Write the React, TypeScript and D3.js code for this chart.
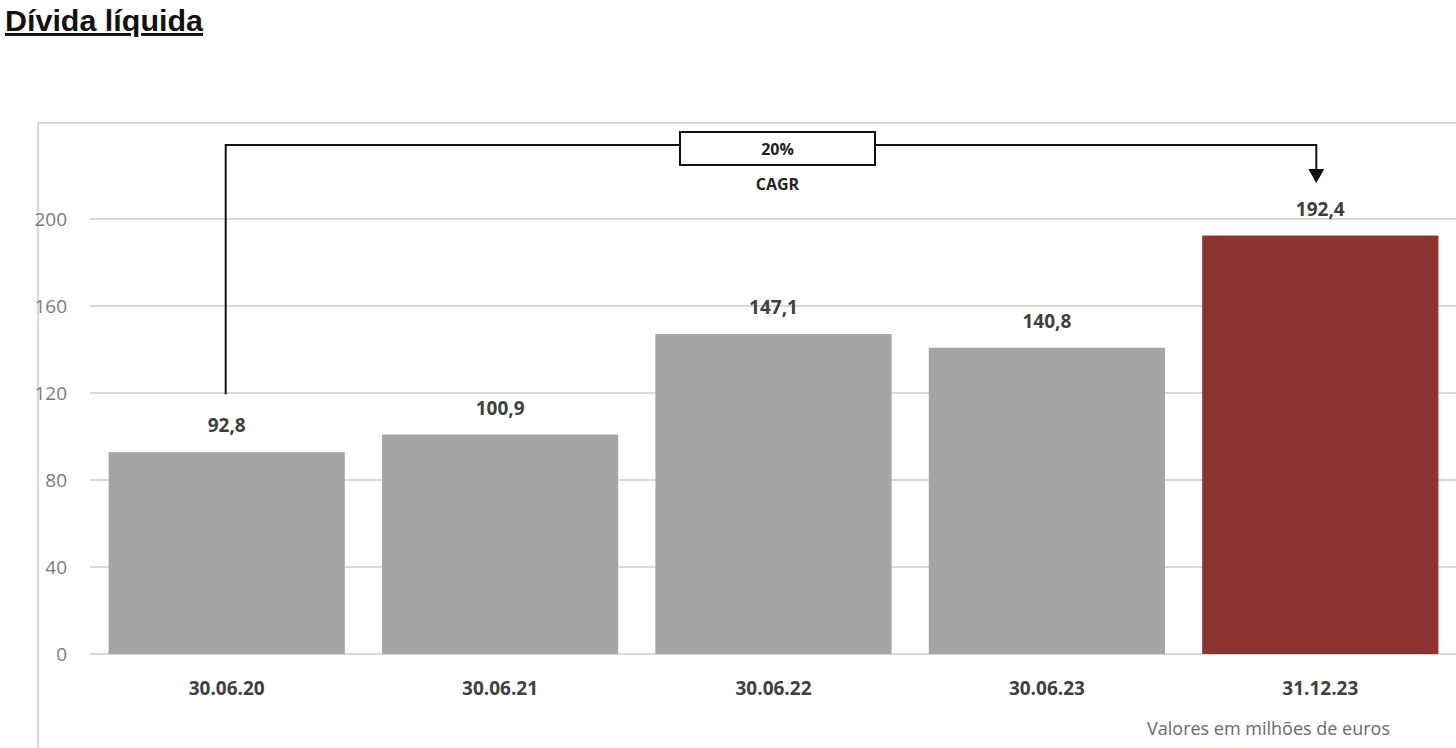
import * as d3 from "d3";

const categories = ["30.06.20", "30.06.21", "30.06.22", "30.06.23", "31.12.23"];
const values = [92.8, 100.9, 147.1, 140.8, 192.4];
const valueLabels = ["92,8", "100,9", "147,1", "140,8", "192,4"];
const yTicks = [0, 40, 80, 120, 160, 200];
const cagrLabel = "20%";

const W = 1456;
const H = 748;
const PLOT = { left: 90, right: 1457, top: 219, bottom: 654 };
const FONT = "'Open Sans', 'Liberation Sans', sans-serif";

export default function App() {
  const x = d3
    .scaleBand<string>()
    .domain(categories)
    .range([PLOT.left, PLOT.right])
    .paddingInner(0.136)
    .paddingOuter(0.068);

  // 0..200 mapped so that 40 units ~ 87px
  const y = d3.scaleLinear().domain([0, 200]).range([PLOT.bottom, PLOT.top]);

  const first = categories[0];
  const last = categories[categories.length - 1];
  const startX = x(first)! + x.bandwidth() * 0.5 - 1;
  const endX = x(last)! + x.bandwidth() * 0.5 - 4;
  const bracketY = 145;
  const boxW = 195;
  const boxX = 680;

  return (
    <svg
      width={W}
      height={H}
      style={{ position: "absolute", left: 0, top: 0, background: "#fff" }}
    >
      {/* title */}
      <text
        x={5}
        y={31}
        fontFamily="'Liberation Sans Narrow', 'Liberation Sans', Arial, sans-serif"
        fontWeight="bold"
        fontSize={29}
        fill="#111"
        textDecoration="underline"
        textLength={198}
        lengthAdjust="spacingAndGlyphs"
      >
        Dívida líquida
      </text>

      {/* chart frame */}
      <path d={`M38,${H} V123 H${W}`} fill="none" stroke="#d9d9d9" strokeWidth={2} />

      {/* gridlines + y ticks */}
      {yTicks.map((t) => (
        <g key={t}>
          <line x1={PLOT.left} x2={W} y1={y(t)} y2={y(t)} stroke="#d9d9d9" strokeWidth={2} />
          <text
            x={67}
            y={y(t)}
            dy="0.35em"
            textAnchor="end"
            fontFamily={FONT}
            fontSize={19}
            fill="#7a7a7a"
          >
            {t}
          </text>
        </g>
      ))}

      {/* bars */}
      {categories.map((c, i) => (
        <g key={c}>
          <rect
            x={x(c)}
            y={y(values[i])}
            width={x.bandwidth()}
            height={y(0) - y(values[i])}
            fill={i === categories.length - 1 ? "#8c3430" : "#a5a5a5"}
          />
          <text
            x={x(c)! + x.bandwidth() / 2}
            y={y(values[i]) - 20}
            textAnchor="middle"
            fontFamily={FONT}
            fontWeight="bold"
            fontSize={19}
            fill="#404040"
          >
            {valueLabels[i]}
          </text>
          <text
            x={x(c)! + x.bandwidth() / 2}
            y={695}
            textAnchor="middle"
            fontFamily={FONT}
            fontWeight="bold"
            fontSize={19}
            fill="#404040"
          >
            {c}
          </text>
        </g>
      ))}

      {/* CAGR bracket */}
      <path
        d={`M${startX},${y(values[0]) - 58} V${bracketY} H${endX} V172`}
        fill="none"
        stroke="#111"
        strokeWidth={2}
      />
      <path d={`M${endX - 8},169 L${endX + 8},169 L${endX},183 Z`} fill="#111" />
      <rect x={boxX} y={132} width={boxW} height={33} fill="#fff" stroke="#111" strokeWidth={2} />
      <text
        x={boxX + boxW / 2}
        y={149}
        dy="0.35em"
        textAnchor="middle"
        fontFamily={FONT}
        fontWeight="bold"
        fontSize={16}
        fill="#222"
      >
        {cagrLabel}
      </text>
      <text
        x={boxX + boxW / 2}
        y={190}
        textAnchor="middle"
        fontFamily={FONT}
        fontWeight="bold"
        fontSize={16}
        fill="#222"
      >
        CAGR
      </text>

      {/* units note */}
      <text
        x={1390}
        y={735}
        textAnchor="end"
        fontFamily={FONT}
        fontSize={18}
        fill="#6a6a6a"
      >
        Valores em milhões de euros
      </text>
    </svg>
  );
}
